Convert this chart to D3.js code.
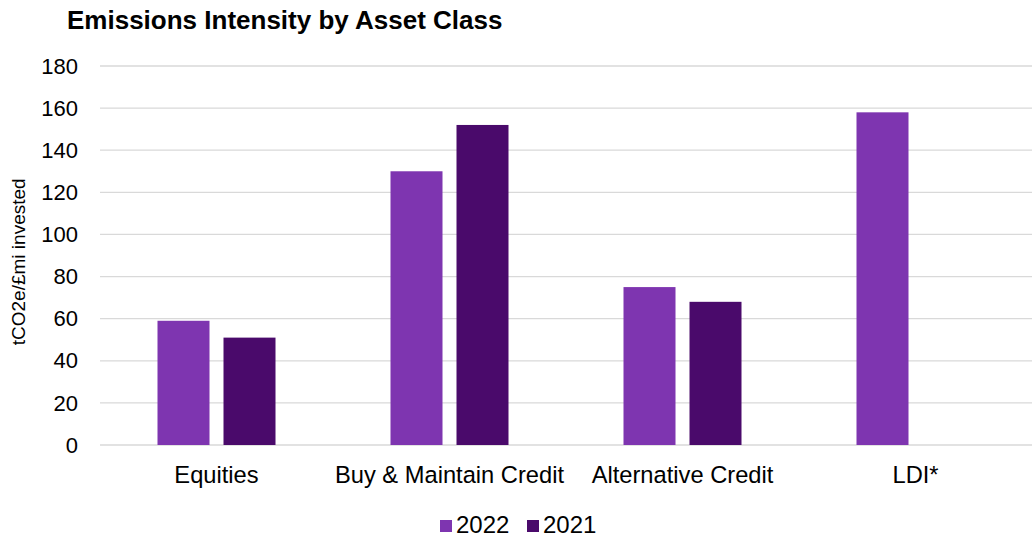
<!DOCTYPE html>
<html>
<head>
<meta charset="utf-8">
<script src="https://cdn.jsdelivr.net/npm/d3@7"></script>
<style>
  body { margin: 0; background: #fff; }
  text { font-family: "Liberation Sans", Arial, sans-serif; fill: #000; }
</style>
</head>
<body>
<script>
const categories = ["Equities", "Buy & Maintain Credit", "Alternative Credit", "LDI*"]
const seriesNames = ["2022", "2021"]
const values2022 = [59, 130, 75, 158]
const values2021 = [51, 152, 68, null]
const yTicks = [0, 20, 40, 60, 80, 100, 120, 140, 160, 180]

const colors = { "2022": "#7e35b0", "2021": "#4a0a6b" }

const width = 1032, height = 537
const margin = { left: 100, right: 0, top: 66, bottom: 92 }

const svg = d3.select("body").append("svg")
  .attr("width", width)
  .attr("height", height)

svg.append("text")
  .attr("x", 67).attr("y", 29)
  .style("font-size", "26px").style("font-weight", "bold")
  .text("Emissions Intensity by Asset Class")

const x = d3.scaleBand()
  .domain(categories)
  .range([margin.left, width - margin.right])

const y = d3.scaleLinear()
  .domain([0, 180])
  .range([height - margin.bottom, margin.top])

// gridlines
svg.append("g").selectAll("line").data(yTicks).enter()
  .append("line")
  .attr("x1", margin.left).attr("x2", width - margin.right)
  .attr("y1", d => y(d)).attr("y2", d => y(d))
  .attr("stroke", "#d9d9d9").attr("stroke-width", 1.3)

// y tick labels
svg.append("g").selectAll("text").data(yTicks).enter()
  .append("text")
  .attr("x", 78).attr("y", d => y(d))
  .attr("dy", "0.35em")
  .attr("text-anchor", "end")
  .style("font-size", "22px")
  .text(d => d)

svg.append("text")
  .attr("transform", "translate(25," + (y(87)) + ") rotate(-90)")
  .attr("text-anchor", "middle")
  .style("font-size", "19px")
  .text("tCO2e/£mi invested")

// bars
var barW = 52, gap = 14
var x1 = d3.scaleOrdinal().domain(seriesNames)
  .range([-(barW + gap / 2), gap / 2])

var data = []
categories.forEach(function (c, i) {
  data.push({ cat: c, s: "2022", v: values2022[i] })
  if (values2021[i] != null) data.push({ cat: c, s: "2021", v: values2021[i] })
})

svg.append("g").selectAll("rect").data(data).enter()
  .append("rect")
  .attr("x", d => x(d.cat) + x.bandwidth() / 2 + x1(d.s))
  .attr("y", d => y(d.v))
  .attr("width", barW)
  .attr("height", d => y(0) - y(d.v))
  .attr("fill", d => colors[d.s])

// category labels
svg.append("g").selectAll("text").data(categories).enter()
  .append("text")
  .attr("x", d => x(d) + x.bandwidth() / 2)
  .attr("y", 483)
  .attr("text-anchor", "middle")
  .style("font-size", "23.7px")
  .text(d => d)

// legend
var leg = svg.append("g").selectAll("g").data(seriesNames).enter()
  .append("g")
  .attr("transform", (d, i) => "translate(" + (440 + i * 87) + ",520)")
leg.append("rect").attr("width", 12).attr("height", 12).attr("fill", d => colors[d])
leg.append("text").attr("x", 16).attr("y", 13).style("font-size", "24px").text(d => d)
</script>
</body>
</html>
